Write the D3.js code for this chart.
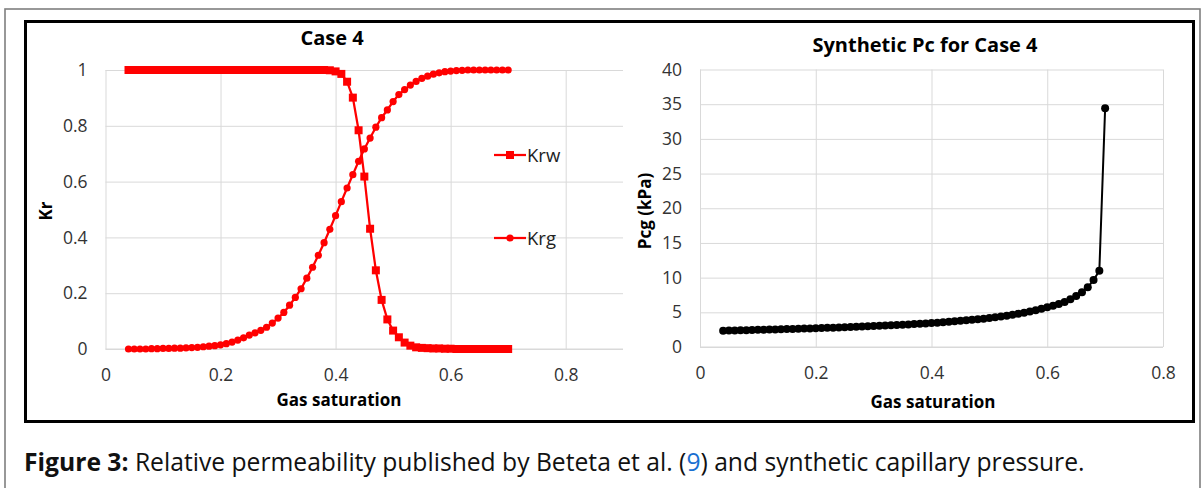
<!DOCTYPE html>
<html><head><meta charset="utf-8">
<script src="https://cdn.jsdelivr.net/npm/d3@7"></script>
<style>
html,body{margin:0;padding:0;background:#fff;}
svg{display:block;}
text{font-family:"Open Sans","Noto Sans",sans-serif;}
</style></head>
<body>
<svg id="c" width="1203" height="488"></svg>
<script>
// ---- data ----
const sg = [0.04,0.05,0.06,0.07,0.08,0.09,0.10,0.11,0.12,0.13,0.14,0.15,0.16,0.17,0.18,0.19,0.20,0.21,0.22,0.23,0.24,0.25,0.26,0.27,0.28,0.29,0.30,0.31,0.32,0.33,0.34,0.35,0.36,0.37,0.38,0.39,0.40,0.41,0.42,0.43,0.44,0.45,0.46,0.47,0.48,0.49,0.50,0.51,0.52,0.53,0.54,0.55,0.56,0.57,0.58,0.59,0.60,0.61,0.62,0.63,0.64,0.65,0.66,0.67,0.68,0.69,0.70];
const krw = [1,1,1,1,1,1,1,1,1,1,1,1,1,1,1,1,1,1,1,1,1,1,1,1,1,1,1,1,1,1,1,1,1,1,1,0.999,0.995,0.986,0.958,0.901,0.784,0.618,0.431,0.282,0.176,0.106,0.066,0.042,0.023,0.012,0.006,0.004,0.003,0.002,0.002,0.001,0.001,0,0,0,0,0,0,0,0,0,0];
const krg = [0,0,0,0,0.001,0.001,0.002,0.002,0.003,0.003,0.004,0.005,0.006,0.008,0.010,0.012,0.015,0.019,0.025,0.032,0.040,0.050,0.058,0.067,0.078,0.093,0.111,0.131,0.157,0.185,0.216,0.254,0.293,0.336,0.381,0.429,0.478,0.528,0.577,0.625,0.673,0.717,0.756,0.795,0.829,0.857,0.887,0.912,0.930,0.946,0.959,0.970,0.978,0.985,0.990,0.994,0.996,0.998,0.999,1,1,1,1,1,1,1,1];
const pcg = [2.35,2.37,2.39,2.41,2.43,2.45,2.47,2.49,2.51,2.54,2.56,2.58,2.61,2.63,2.66,2.68,2.71,2.74,2.76,2.79,2.82,2.85,2.88,2.91,2.95,2.98,3.02,3.05,3.09,3.13,3.17,3.21,3.26,3.30,3.35,3.40,3.46,3.51,3.57,3.63,3.70,3.77,3.84,3.92,4.00,4.09,4.18,4.28,4.39,4.51,4.64,4.78,4.94,5.11,5.30,5.50,5.72,5.95,6.20,6.50,6.88,7.35,7.90,8.60,9.65,11.0,34.4];
const xTicks = [0,0.2,0.4,0.6,0.8];
const krTicks = [0,0.2,0.4,0.6,0.8,1];
const pcTicks = [0,5,10,15,20,25,30,35,40];
const seriesNames = ["Krw","Krg"];

const svg = d3.select("#c");
const RED = "#ff0000", GRID = "#d9d9d9", TICK = "#333";

// outer frames
svg.append("rect").attr("x",5).attr("y",9).attr("width",1195).attr("height",500)
  .attr("fill","none").attr("stroke","#7f7f7f").attr("stroke-width",1.6);
svg.append("rect").attr("x",25.5).attr("y",21.5).attr("width",1168).attr("height",400)
  .attr("fill","none").attr("stroke","#000").attr("stroke-width",3);

function drawAxes(g, x, y, yt, plotRight){
  const [x0] = x.range();
  g.append("g").attr("transform",`translate(${x0},0)`)
    .call(d3.axisLeft(y).tickValues(yt).tickSize(-(plotRight-x0)).tickFormat(d=>String(d)).tickPadding(18))
    .call(a=>{a.select(".domain").remove();
      a.selectAll("line").attr("stroke",GRID).attr("stroke-width",1);
      a.selectAll("text").attr("fill",TICK).style("font-size","17.5px");});
  const yb = y.range()[0], yt0 = y.range()[1];
  g.append("g").attr("transform",`translate(0,${yb})`)
    .call(d3.axisBottom(x).tickValues(xTicks).tickSize(-(yb-yt0)).tickFormat(d=>String(d)).tickPadding(20))
    .call(a=>{a.select(".domain").remove();
      a.selectAll("line").attr("stroke",GRID).attr("stroke-width",1);
      a.selectAll("text").attr("fill",TICK).style("font-size","17.5px");});
}

// ---- left chart ----
const xL = d3.scaleLinear().domain([0,0.9]).range([105.5,623.2]);
const yL = d3.scaleLinear().domain([0,1]).range([349,70]);
const gL = svg.append("g");
drawAxes(gL, xL, yL, krTicks, 623);
gL.append("line").attr("x1",105.5).attr("x2",623).attr("y1",349).attr("y2",349).attr("stroke",GRID);

const lineL = (vals)=>d3.line().x((d,i)=>xL(sg[i])).y(d=>yL(d))(vals);
gL.append("path").attr("d",lineL(krw)).attr("fill","none").attr("stroke",RED).attr("stroke-width",2.25);
gL.selectAll("rect.krw").data(krw).join("rect").attr("class","krw")
  .attr("x",(d,i)=>xL(sg[i])-4).attr("y",d=>yL(d)-4).attr("width",8).attr("height",8).attr("fill",RED);
gL.append("path").attr("d",lineL(krg)).attr("fill","none").attr("stroke",RED).attr("stroke-width",2.25);
gL.selectAll("circle.krg").data(krg).join("circle").attr("class","krg")
  .attr("cx",(d,i)=>xL(sg[i])).attr("cy",d=>yL(d)).attr("r",3.6).attr("fill",RED);

// legend
const legY = [155,238];
seriesNames.forEach((n,k)=>{
  const lg = gL.append("g").attr("transform",`translate(0,${legY[k]})`);
  lg.append("line").attr("x1",494).attr("x2",526).attr("stroke",RED).attr("stroke-width",2.25);
  if(k===0) lg.append("rect").attr("x",506).attr("y",-4).attr("width",8).attr("height",8).attr("fill",RED);
  else lg.append("circle").attr("cx",510).attr("r",3.6).attr("fill",RED);
  lg.append("text").attr("x",527).attr("y",6.5).attr("fill","#222").style("font-size","18.5px").text(n);
});

gL.append("text").attr("x",332).attr("y",45).attr("text-anchor","middle").attr("font-weight","bold").style("font-size","20px").text("Case 4");
gL.append("text").attr("x",339).attr("y",406).attr("text-anchor","middle").attr("font-weight","bold").style("font-size","17px").text("Gas saturation");
gL.append("text").attr("transform","translate(52,211) rotate(-90)").attr("text-anchor","middle").attr("font-weight","bold").style("font-size","17px").text("Kr");

// ---- right chart ----
const xR = d3.scaleLinear().domain([0,0.8]).range([700,1163]);
const yR = d3.scaleLinear().domain([0,40]).range([347,69.5]);
const gR = svg.append("g");
drawAxes(gR, xR, yR, pcTicks, 1163);
gR.append("line").attr("x1",700).attr("x2",1163).attr("y1",347).attr("y2",347).attr("stroke",GRID);
gR.append("path").attr("d",d3.line().x((d,i)=>xR(sg[i])).y(d=>yR(d))(pcg)).attr("fill","none").attr("stroke","#000").attr("stroke-width",2);
gR.selectAll("circle.pc").data(pcg).join("circle").attr("class","pc")
  .attr("cx",(d,i)=>xR(sg[i])).attr("cy",d=>yR(d)).attr("r",4).attr("fill","#000");

gR.append("text").attr("x",925).attr("y",52).attr("text-anchor","middle").attr("font-weight","bold").style("font-size","20px").text("Synthetic Pc for Case 4");
gR.append("text").attr("x",933).attr("y",408).attr("text-anchor","middle").attr("font-weight","bold").style("font-size","17px").text("Gas saturation");
gR.append("text").attr("transform","translate(651,211) rotate(-90)").attr("text-anchor","middle").attr("font-weight","bold").style("font-size","17px").text("Pcg (kPa)");

// ---- caption ----
const cap = svg.append("text").attr("x",24).attr("y",471).style("font-size","20px").attr("fill","#111");
cap.append("tspan").attr("font-weight","bold").text("Figure 3:");
cap.append("tspan").text(" Relative permeability published by Beteta et al. (");
cap.append("tspan").attr("fill","#1a6fd1").text("9");
cap.append("tspan").text(") and synthetic capillary pressure.");
const w = cap.node().getComputedTextLength();
cap.style("font-size",(20*1061/w).toFixed(2)+"px");
</script>
</body></html>
